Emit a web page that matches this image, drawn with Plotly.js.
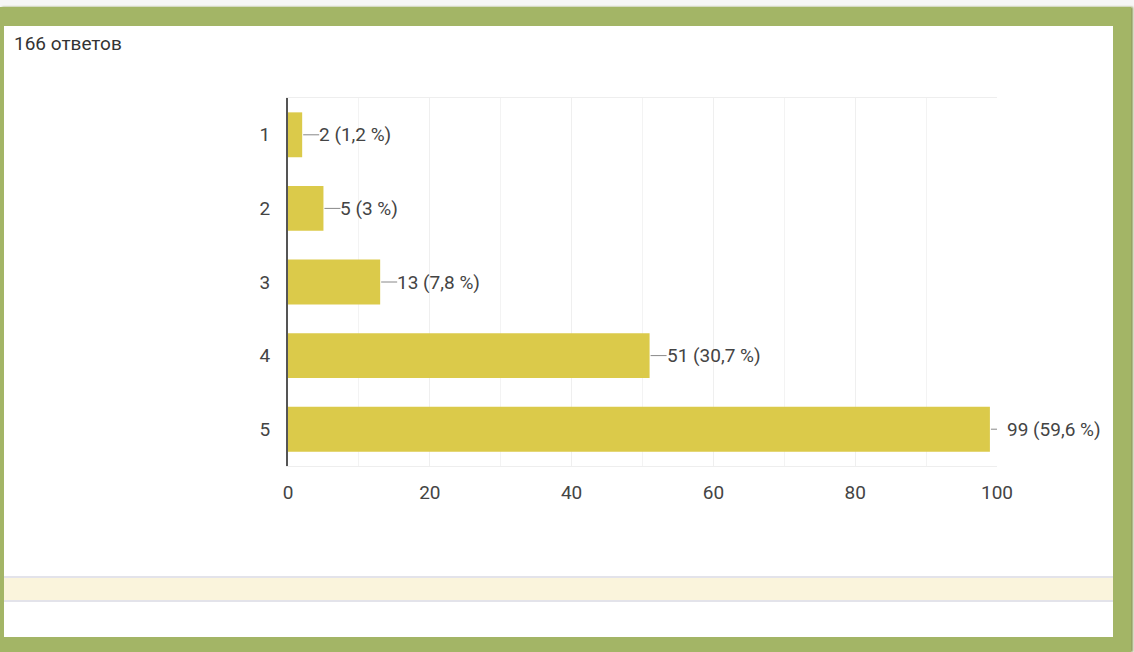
<!DOCTYPE html>
<html>
<head>
<meta charset="utf-8">
<script src="https://cdn.plot.ly/plotly-3.0.1.min.js"></script>
<style>
  html, body { margin:0; padding:0; width:1134px; height:652px; overflow:hidden; background:#f6f6f6; }
  .abs { position:absolute; }
  #green { left:0; top:7px; width:1131px; height:645px; background:#a3b566; box-shadow: 2px 0 2px #8e9e58; }
  #inner { left:4px; top:26px; width:1109px; height:611px; background:#ffffff; }
  #band { left:4px; top:576px; width:1109px; height:22px; background:#faf4dc; border-top:2px solid #e3e3ea; border-bottom:2px solid #e3e3ea; }
  #chart { left:0; top:0; width:1134px; height:652px; }
</style>
</head>
<body>
<div id="green" class="abs"></div>
<div id="inner" class="abs"></div>
<div id="band" class="abs"></div>
<div id="chart" class="abs"></div>
<script>
const totalLabel = '166 ответов';
const categories = ['1', '2', '3', '4', '5'];
const counts = [2, 5, 13, 51, 99];
const percents = ['1,2', '3', '7,8', '30,7', '59,6'];
const xTicks = [0, 20, 40, 60, 80, 100];

const barColor = '#dbca4a';
const textColor = '#444444';
const FONT = 'Roboto, "Liberation Sans", sans-serif';

const labels = counts.map((c, i) => c + ' (' + percents[i] + ' %)');

const shapes = counts.map((c, i) => ({
  type: 'line', xref: 'x', yref: 'y', xsizemode: 'pixel', xanchor: c,
  x0: 1, x1: 17, y0: i, y1: i,
  line: { color: '#888888', width: 1 }
}));

const annotations = counts.map((c, i) => ({
  x: c, y: i, xref: 'x', yref: 'y',
  text: labels[i], showarrow: false, xanchor: 'left', yanchor: 'middle',
  xshift: 15, font: { family: FONT, size: 19, color: textColor }
}));

const trace = {
  type: 'bar', orientation: 'h',
  x: counts, y: categories,
  marker: { color: barColor },
  hoverinfo: 'none'
};

const layout = {
  width: 1134, height: 652,
  margin: { l: 288, r: 137, t: 98, b: 186, pad: 0 },
  paper_bgcolor: 'rgba(0,0,0,0)',
  plot_bgcolor: 'rgba(0,0,0,0)',
  showlegend: false,
  bargap: 0.39,
  title: {
    text: totalLabel, xref: 'container', yref: 'container',
    x: 14 / 1134, xanchor: 'left', y: 1 - 43 / 652, yanchor: 'middle',
    font: { family: FONT, size: 19, color: '#333333' }
  },
  xaxis: {
    range: [0, 100], tickvals: xTicks, ticktext: xTicks.map(String),
    showgrid: true, gridcolor: '#efefef', gridwidth: 1,
    minor: { dtick: 10, showgrid: true, gridcolor: '#f3f3f3' },
    showline: true, mirror: true, linecolor: '#eeeeee', linewidth: 1,
    zeroline: false, ticks: '', ticklabelstandoff: 9,
    tickfont: { family: FONT, size: 19, color: textColor },
    fixedrange: true
  },
  yaxis: {
    type: 'category', categoryorder: 'array', categoryarray: categories,
    range: [4.5, -0.5], showgrid: false, zeroline: false,
    showline: true, linecolor: '#555555', linewidth: 2,
    ticks: '', ticklabelstandoff: 12,
    tickfont: { family: FONT, size: 19, color: textColor },
    fixedrange: true
  },
  shapes: shapes,
  annotations: annotations
};

Plotly.newPlot('chart', [trace], layout, { displayModeBar: false, staticPlot: true });
</script>
</body>
</html>
